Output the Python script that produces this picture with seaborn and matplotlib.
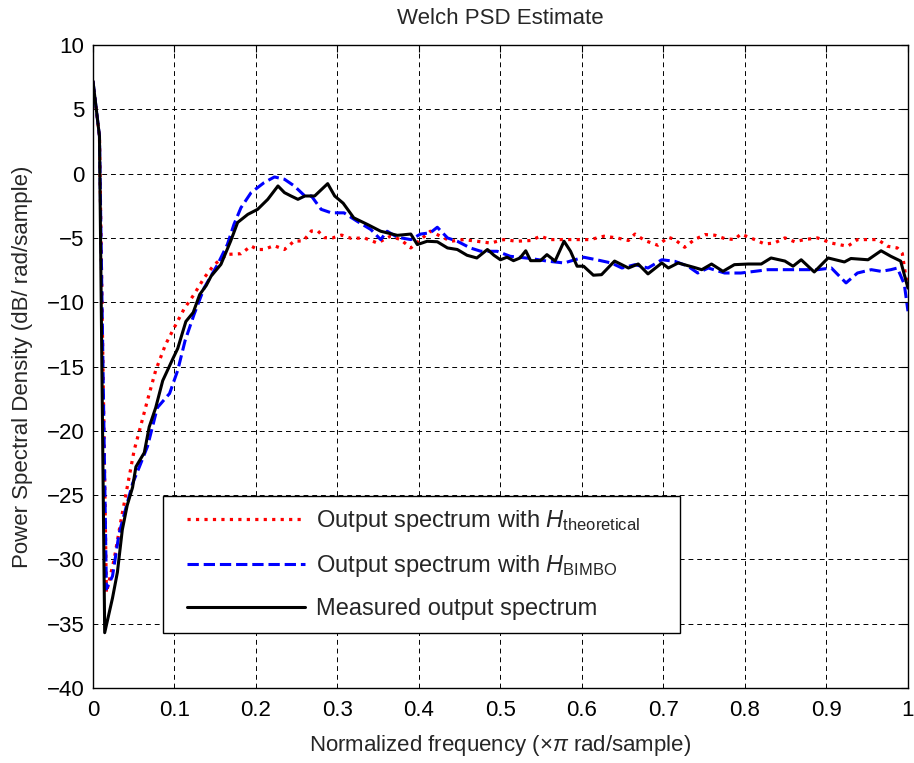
import numpy as np
import pandas as pd
import seaborn as sns
import matplotlib.pyplot as plt
from matplotlib.patches import Rectangle

# Frequency (x pi rad/sample) and PSD (dB/ rad/sample)
freq_meas = [0, 0.008, 0.0144, 0.024, 0.030, 0.036, 0.042, 0.0486, 0.0527, 0.063,
             0.069, 0.077, 0.0856, 0.098, 0.104, 0.114, 0.123, 0.131, 0.139, 0.145,
             0.157, 0.169, 0.1775, 0.19, 0.202, 0.2145, 0.227, 0.235, 0.243, 0.2515,
             0.26, 0.272, 0.288, 0.2966, 0.307, 0.320, 0.337, 0.353, 0.3735, 0.39,
             0.398, 0.41, 0.4225, 0.435, 0.447, 0.459, 0.471, 0.484, 0.492, 0.5,
             0.508, 0.516, 0.524, 0.531, 0.537, 0.549, 0.557, 0.567, 0.578, 0.586,
             0.594, 0.602, 0.614, 0.624, 0.64, 0.657, 0.669, 0.681, 0.698, 0.706,
             0.718, 0.738, 0.747, 0.759, 0.773, 0.787, 0.804, 0.82, 0.832, 0.849,
             0.859, 0.869, 0.885, 0.902, 0.922, 0.93, 0.951, 0.967, 0.979, 0.991, 1.0]
psd_meas = [7.2, 2.9, -35.7, -33, -31, -27.7, -25.8, -24.4, -22.8, -21.7,
            -19.7, -18.2, -16.1, -14.4, -13.6, -11.5, -10.8, -9.4, -8.7, -7.97,
            -7.06, -5.24, -3.8, -3.17, -2.78, -2.0, -0.96, -1.48, -1.74, -2.0,
            -1.74, -1.74, -0.78, -1.74, -2.3, -3.44, -3.96, -4.48, -4.8, -4.7,
            -5.52, -5.26, -5.3, -5.78, -5.9, -6.35, -6.56, -5.9, -6.35, -6.7,
            -6.5, -6.77, -6.56, -6.0, -6.77, -6.77, -6.3, -6.8, -5.26, -6.04,
            -7.2, -7.2, -7.9, -7.86, -6.8, -7.34, -7.03, -7.8, -6.95, -7.34,
            -6.95, -7.3, -7.47, -7.03, -7.6, -7.08, -7.03, -7.03, -6.56, -6.8,
            -7.2, -6.7, -7.65, -6.56, -6.87, -6.6, -6.7, -6.0, -6.43, -6.8, -8.9]

freq_bimbo = [0, 0.008, 0.0165, 0.024, 0.032, 0.040, 0.0486, 0.057, 0.067, 0.079,
              0.094, 0.104, 0.113, 0.124, 0.1365, 0.153, 0.165, 0.173, 0.1816, 0.194,
              0.21, 0.2227, 0.235, 0.247, 0.26, 0.268, 0.28, 0.2925, 0.308, 0.324,
              0.341, 0.353, 0.361, 0.3735, 0.39, 0.402, 0.414, 0.4225, 0.435, 0.447,
              0.463, 0.476, 0.496, 0.512, 0.537, 0.557, 0.578, 0.602, 0.618, 0.636,
              0.649, 0.665, 0.681, 0.698, 0.714, 0.73, 0.742, 0.755, 0.775, 0.795,
              0.812, 0.828, 0.853, 0.869, 0.889, 0.906, 0.924, 0.938, 0.955, 0.967,
              0.979, 0.987, 0.9955, 1.0]
psd_bimbo = [7.2, 2.9, -32.3, -31.3, -28.0, -26.1, -24.1, -22.8, -21.2, -18.2,
             -17.1, -15.3, -13.0, -10.96, -8.88, -7.06, -5.5, -3.95, -2.65, -1.48,
             -0.7, -0.26, -0.44, -0.96, -1.74, -1.74, -2.78, -3.05, -3.05, -3.7,
             -4.35, -5.13, -4.48, -4.95, -5.13, -4.7, -4.6, -4.17, -5.0, -5.26,
             -5.78, -6.04, -6.04, -6.43, -6.6, -6.8, -6.95, -6.5, -6.7, -6.95,
             -7.34, -7.08, -7.34, -6.7, -6.82, -7.2, -7.73, -7.34, -7.73, -7.73,
             -7.6, -7.47, -7.47, -7.47, -7.47, -7.34, -8.5, -7.73, -7.47, -7.6,
             -7.47, -7.34, -8.6, -10.7]

freq_theo = [0, 0.008, 0.0165, 0.026, 0.034, 0.042, 0.0506, 0.057, 0.067, 0.077,
             0.089, 0.0995, 0.112, 0.124, 0.1365, 0.149, 0.165, 0.1816, 0.194, 0.202,
             0.21, 0.222, 0.235, 0.247, 0.258, 0.268, 0.276, 0.284, 0.294, 0.305,
             0.317, 0.333, 0.349, 0.365, 0.3775, 0.39, 0.402, 0.414, 0.4265, 0.439,
             0.455, 0.471, 0.488, 0.504, 0.520, 0.537, 0.549, 0.561, 0.578, 0.594,
             0.61, 0.627, 0.643, 0.657, 0.665, 0.677, 0.693, 0.706, 0.714, 0.726,
             0.738, 0.751, 0.763, 0.775, 0.787, 0.795, 0.812, 0.824, 0.836, 0.849,
             0.861, 0.873, 0.889, 0.906, 0.926, 0.938, 0.951, 0.963, 0.975, 0.987,
             0.993, 0.9976, 1.0]
psd_theo = [7.2, 2.9, -32.6, -30, -27.1, -24.4, -21.5, -20, -17.6, -15.3,
            -13.3, -12.0, -10.5, -9.4, -8.1, -7.06, -6.28, -6.23, -5.63, -5.9,
            -5.9, -5.6, -5.9, -5.24, -5.24, -4.46, -4.46, -4.98, -5.0, -4.78,
            -5.04, -5.0, -5.4, -4.87, -5.13, -5.78, -5.13, -4.48, -4.87, -5.26,
            -5.13, -5.26, -5.4, -5.13, -5.26, -5.2, -4.87, -5.13, -5.13, -5.13,
            -5.13, -4.87, -5.0, -5.2, -4.7, -5.2, -5.57, -4.95, -5.13, -5.73,
            -5.13, -4.74, -4.79, -5.05, -5.13, -4.7, -5.13, -5.47, -5.4, -5.0,
            -5.3, -5.13, -5.0, -5.4, -5.65, -5.13, -5.13, -5.13, -5.65, -5.78,
            -6.2, -8.1, -8.5]

xticks = [0, 0.1, 0.2, 0.3, 0.4, 0.5, 0.6, 0.7, 0.8, 0.9, 1]
xtick_labels = ["0", "0.1", "0.2", "0.3", "0.4", "0.5", "0.6", "0.7", "0.8", "0.9", "1"]
yticks = [-40, -35, -30, -25, -20, -15, -10, -5, 0, 5, 10]

sns.set_style("white")
plt.rcParams['font.family'] = ['Liberation Sans', 'DejaVu Sans']
plt.rcParams['mathtext.fontset'] = 'custom'
plt.rcParams['mathtext.rm'] = 'Liberation Sans'
plt.rcParams['mathtext.it'] = 'Liberation Sans:italic'

fs = 16

fig = plt.figure(figsize=(9.14, 7.63), dpi=100)
ax = fig.add_axes([0.1017, 0.0983, 0.8917, 0.8427])

sns.lineplot(x=freq_theo, y=psd_theo, ax=ax, color='red', linestyle=':', lw=2.3,
             label=r'Output spectrum with $\mathit{H}_{\mathrm{theoretical}}$')
sns.lineplot(x=freq_bimbo, y=psd_bimbo, ax=ax, color='blue', linestyle='--', lw=2.2,
             label=r'Output spectrum with $\mathit{H}_{\mathrm{BIMBO}}$')
sns.lineplot(x=freq_meas, y=psd_meas, ax=ax, color='black', linestyle='-', lw=2.2,
             label='Measured output spectrum')

ax.set_xlim(0, 1)
ax.set_ylim(-40, 10)
ax.set_xticks(xticks)
ax.set_xticklabels(xtick_labels)
ax.set_yticks(yticks)
ax.grid(True, color='black', linestyle=(0, (5, 4)), lw=0.7)
ax.tick_params(direction='in', top=True, right=True, length=5, labelsize=fs,
               colors='black')
ax.tick_params(axis='x', pad=9)
ax.tick_params(axis='y', pad=6)
for s in ax.spines.values():
    s.set_color('black')
    s.set_linewidth(1.0)

ax.set_title("Welch PSD Estimate", fontsize=fs, pad=15)
ax.set_xlabel(r"Normalized frequency ($\times\pi$ rad/sample)", fontsize=fs, labelpad=8)
ax.set_ylabel("Power Spectral Density (dB/ rad/sample)", fontsize=fs, labelpad=10)

# legend box (MATLAB style, square corners) drawn separately, entries on top
ax.add_patch(Rectangle((0.0859, 0.0855), 0.6344, 0.2131, transform=ax.transAxes,
                       facecolor='white', edgecolor='black', lw=1.0, zorder=3))
leg = ax.legend(loc='center left', bbox_to_anchor=(0.1153, 0.1930), borderaxespad=0,
                fontsize=17, handlelength=5.0, handletextpad=0.45, labelspacing=0.8,
                borderpad=0, frameon=False)
leg.set_zorder(5)

plt.savefig("out.png", dpi=100)
